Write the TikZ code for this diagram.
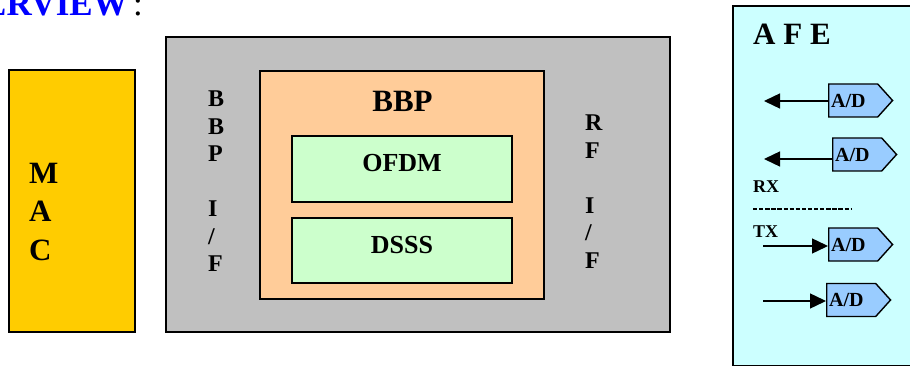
\documentclass[tikz,border=0pt]{standalone}
\usepackage{fontspec}
\setmainfont{Liberation Serif}
\usetikzlibrary{arrows.meta,positioning,shapes.symbols}
\definecolor{macgold}{HTML}{FFCC00}
\definecolor{ifgray}{HTML}{C0C0C0}
\definecolor{bbporange}{HTML}{FFCC99}
\definecolor{modgreen}{HTML}{CCFFCC}
\definecolor{afecyan}{HTML}{CCFFFF}
\definecolor{adblue}{HTML}{99CCFF}
\tikzset{
    blk/.style={rectangle, draw=black, fill=#1, line width=1.8pt, inner sep=0pt},
    adc/.style={signal, signal to=east, signal pointer angle=96, draw=black,
                fill=adblue, line width=1.4pt, minimum height=33pt,
                text width=44pt, inner xsep=2.5pt, inner ysep=0pt, align=left,
                font=\fontsize{20}{22}\selectfont\bfseries},
    txt/.style={inner sep=0pt, font=\fontsize{#1}{#1}\selectfont\bfseries},
    vtxt/.style={inner sep=0pt, anchor=north west, align=left,
                 font=\fontsize{#1}{27.5}\selectfont\bfseries},
    arr/.style={-{Triangle[length=16pt,width=15pt]}, line width=1.4pt},
}

\begin{document}
\begin{tikzpicture}[x=1pt, y=-1pt]
    \clip (0,0) rectangle (910,366);
    \node[txt=35, text=blue, anchor=base east] (ttl)  at (128,16) {OVERVIEW};
    \node[inner sep=0pt, font=\fontsize{35}{35}\selectfont, anchor=base west] (ttlc) at (133,16) {:};

    \node[blk=macgold, minimum width=126pt, minimum height=262pt] (mac) at (72,201) {};
    \node[vtxt=31, font=\fontsize{31}{38.5}\selectfont\bfseries] (macl) at (29,163) {M\\A\\C};

    \node[blk=ifgray,    minimum width=504pt, minimum height=295pt] (phy)  at (418,184.5) {};
    \node[blk=bbporange, minimum width=284pt, minimum height=228pt] (bbp)  at (402,185) {};
    \node[blk=modgreen,  minimum width=220pt, minimum height=66pt]  (ofdm) at (402,169) {};
    \node[blk=modgreen,  minimum width=220pt, minimum height=65pt]  (dsss) at (402,250.5) {};
    \node[txt=31, anchor=base] (bbpl)  at (402.5,112) {BBP};
    \node[txt=26, anchor=base] (ofdml) at (402,172) {OFDM};
    \node[txt=26, anchor=base] (dsssl) at (402,253) {DSSS};
    \node[vtxt=24] (bbpifl) at (208,91)  {B\\B\\P\\[27.5pt]I\\/\\F};
    \node[vtxt=24] (rfifl)  at (585,115) {R\\F\\[27.5pt]I\\/\\F};

    \node[blk=afecyan, line width=1.6pt, minimum width=190pt, minimum height=360pt,
          anchor=north west] (afe) at (732,5) {};
    \node[txt=31, anchor=base west] (afel) at (753,45) {A F E};
    \node[adc, anchor=west] (ad1) at (828,100.5) {A/D};
    \node[adc, anchor=west] (ad2) at (832,154.5) {A/D};
    \node[adc, anchor=west] (ad3) at (828,244.5) {A/D};
    \node[adc, anchor=west] (ad4) at (826,300)   {A/D};
    \node[txt=18, anchor=base west] (rxl) at (753,193) {RX};
    \node[txt=18, anchor=base west] (txl) at (753,237) {TX};

    \coordinate (rx1) at (764,101);
    \coordinate (rx2) at (764,159);
    \coordinate (tx1) at (763,246);
    \coordinate (tx2) at (763,301);
    \coordinate (sepl) at (753,209);
    \coordinate (sepr) at (851,209);

    \draw[arr] (rx1 -| ad1.west) -- (rx1);
    \draw[arr] (rx2 -| ad2.west) -- (rx2);
    \draw[arr] (tx1) -- (tx1 -| ad3.west);
    \draw[arr] (tx2) -- (tx2 -| ad4.west);
    \draw[line width=2pt, dash pattern=on 4.3pt off 1.8pt] (sepl) -- (sepr);
\end{tikzpicture}
\end{document}
